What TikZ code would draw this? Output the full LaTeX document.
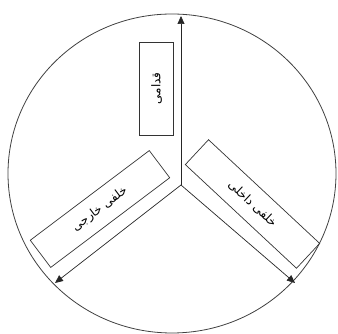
\documentclass[tikz,border=0pt]{standalone}
\usepackage{fontspec}
\newfontfamily\arabicfont[Script=Arabic]{DejaVu Sans}
\TeXXeTstate=1
\usetikzlibrary{arrows.meta,shapes.geometric}

\begin{document}
\begin{tikzpicture}[x=1pt,y=1pt,
  region/.style={rectangle,draw=black!80,line width=0.7pt,minimum width=#1,
    minimum height=34pt,inner sep=0pt,font=\arabicfont\fontsize{12}{14}\selectfont},
  region/.default={150pt},
  axis/.style={-{Triangle[length=8pt,width=7pt]},draw=black!85,line width=0.7pt},
]
  \useasboundingbox (0,0) rectangle (338,334);
  \draw[black!75,line width=0.8pt] (172,160.5) ellipse [x radius=164,y radius=159.5];
  % axes from the hub
  \coordinate (hub) at (181,149);
  \coordinate (front) at (181,318);
  \coordinate (outer) at (55,51);
  \coordinate (inner) at (295,51);
  \draw[axis] (hub) -- (front);
  \draw[axis] (hub) -- (outer);
  \draw[axis] (hub) -- (inner);
  % labels
  \node[region=93pt,rotate=90] (anterior) at (156.5,245.5) {\beginR قدامی\endR};
  \node[region=149pt,rotate=37] (postext) at (100,125) {\beginR خلفی خارجی\endR};
  \node[region=152pt,rotate=-43] (postint) at (252.5,130) {\beginR خلفی داخلی\endR};
\end{tikzpicture}
\end{document}
